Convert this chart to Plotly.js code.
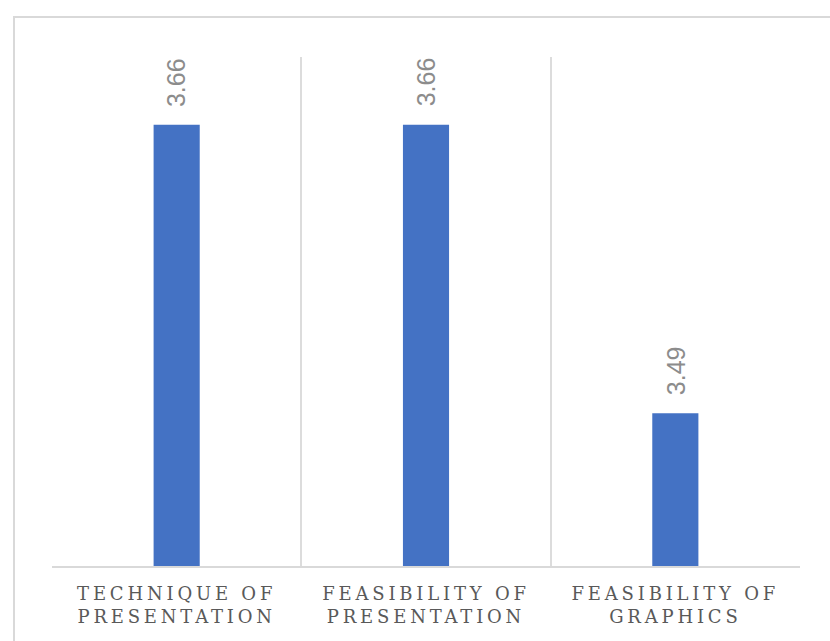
<!DOCTYPE html>
<html><head><meta charset="utf-8">
<script src="https://cdn.plot.ly/plotly-3.0.1.min.js"></script>
<style>
html,body{margin:0;padding:0;background:#fff;overflow:hidden}
#frame{position:absolute;left:13px;top:16px;width:900px;height:700px;border:2px solid #d9d9d9;box-sizing:border-box}
#chart{position:absolute;left:0;top:0;width:830px;height:641px}
.xtick text, .xtick tspan{letter-spacing:3.8px}
</style></head>
<body>
<div id="frame"></div>
<div id="chart"></div>
<script>
var categories = ["TECHNIQUE OF<br>PRESENTATION", "FEASIBILITY OF<br>PRESENTATION", "FEASIBILITY OF<br>GRAPHICS"];
var values = [3.66, 3.66, 3.49];
var valueLabels = ["3.66", "3.66", "3.49"];

var trace = {
  type: 'bar', x: categories, y: values,
  marker: {color: '#4472C4'},
  hoverinfo: 'none'
};
var annotations = categories.map(function(c, i){
  return {x: c, y: values[i], xref: 'x', yref: 'y', text: valueLabels[i], showarrow: false,
    textangle: -90, yanchor: 'bottom', xanchor: 'center', yshift: 16,
    font: {family: 'Liberation Sans Narrow, Liberation Sans, sans-serif', size: 25, color: '#8c8c8c'}};
});
var layout = {
  width: 830, height: 641,
  margin: {l: 52, r: 30, t: 57, b: 75},
  paper_bgcolor: 'rgba(0,0,0,0)', plot_bgcolor: 'rgba(0,0,0,0)',
  bargap: 0.815,
  showlegend: false,
  xaxis: {type: 'category', tickson: 'boundaries', showgrid: true, gridcolor: '#dcdcdc', gridwidth: 2,
    showline: true, linecolor: '#d9d9d9', linewidth: 2, ticks: '', ticklabelstandoff: 10,
    tickfont: {family: 'DejaVu Serif, serif', size: 18, color: '#595959'}, fixedrange: true},
  yaxis: {range: [3.4, 3.7], visible: false, showgrid: false, zeroline: false, fixedrange: true},
  annotations: annotations
};
Plotly.newPlot('chart', [trace], layout, {displayModeBar: false, staticPlot: true});
</script>
</body></html>
